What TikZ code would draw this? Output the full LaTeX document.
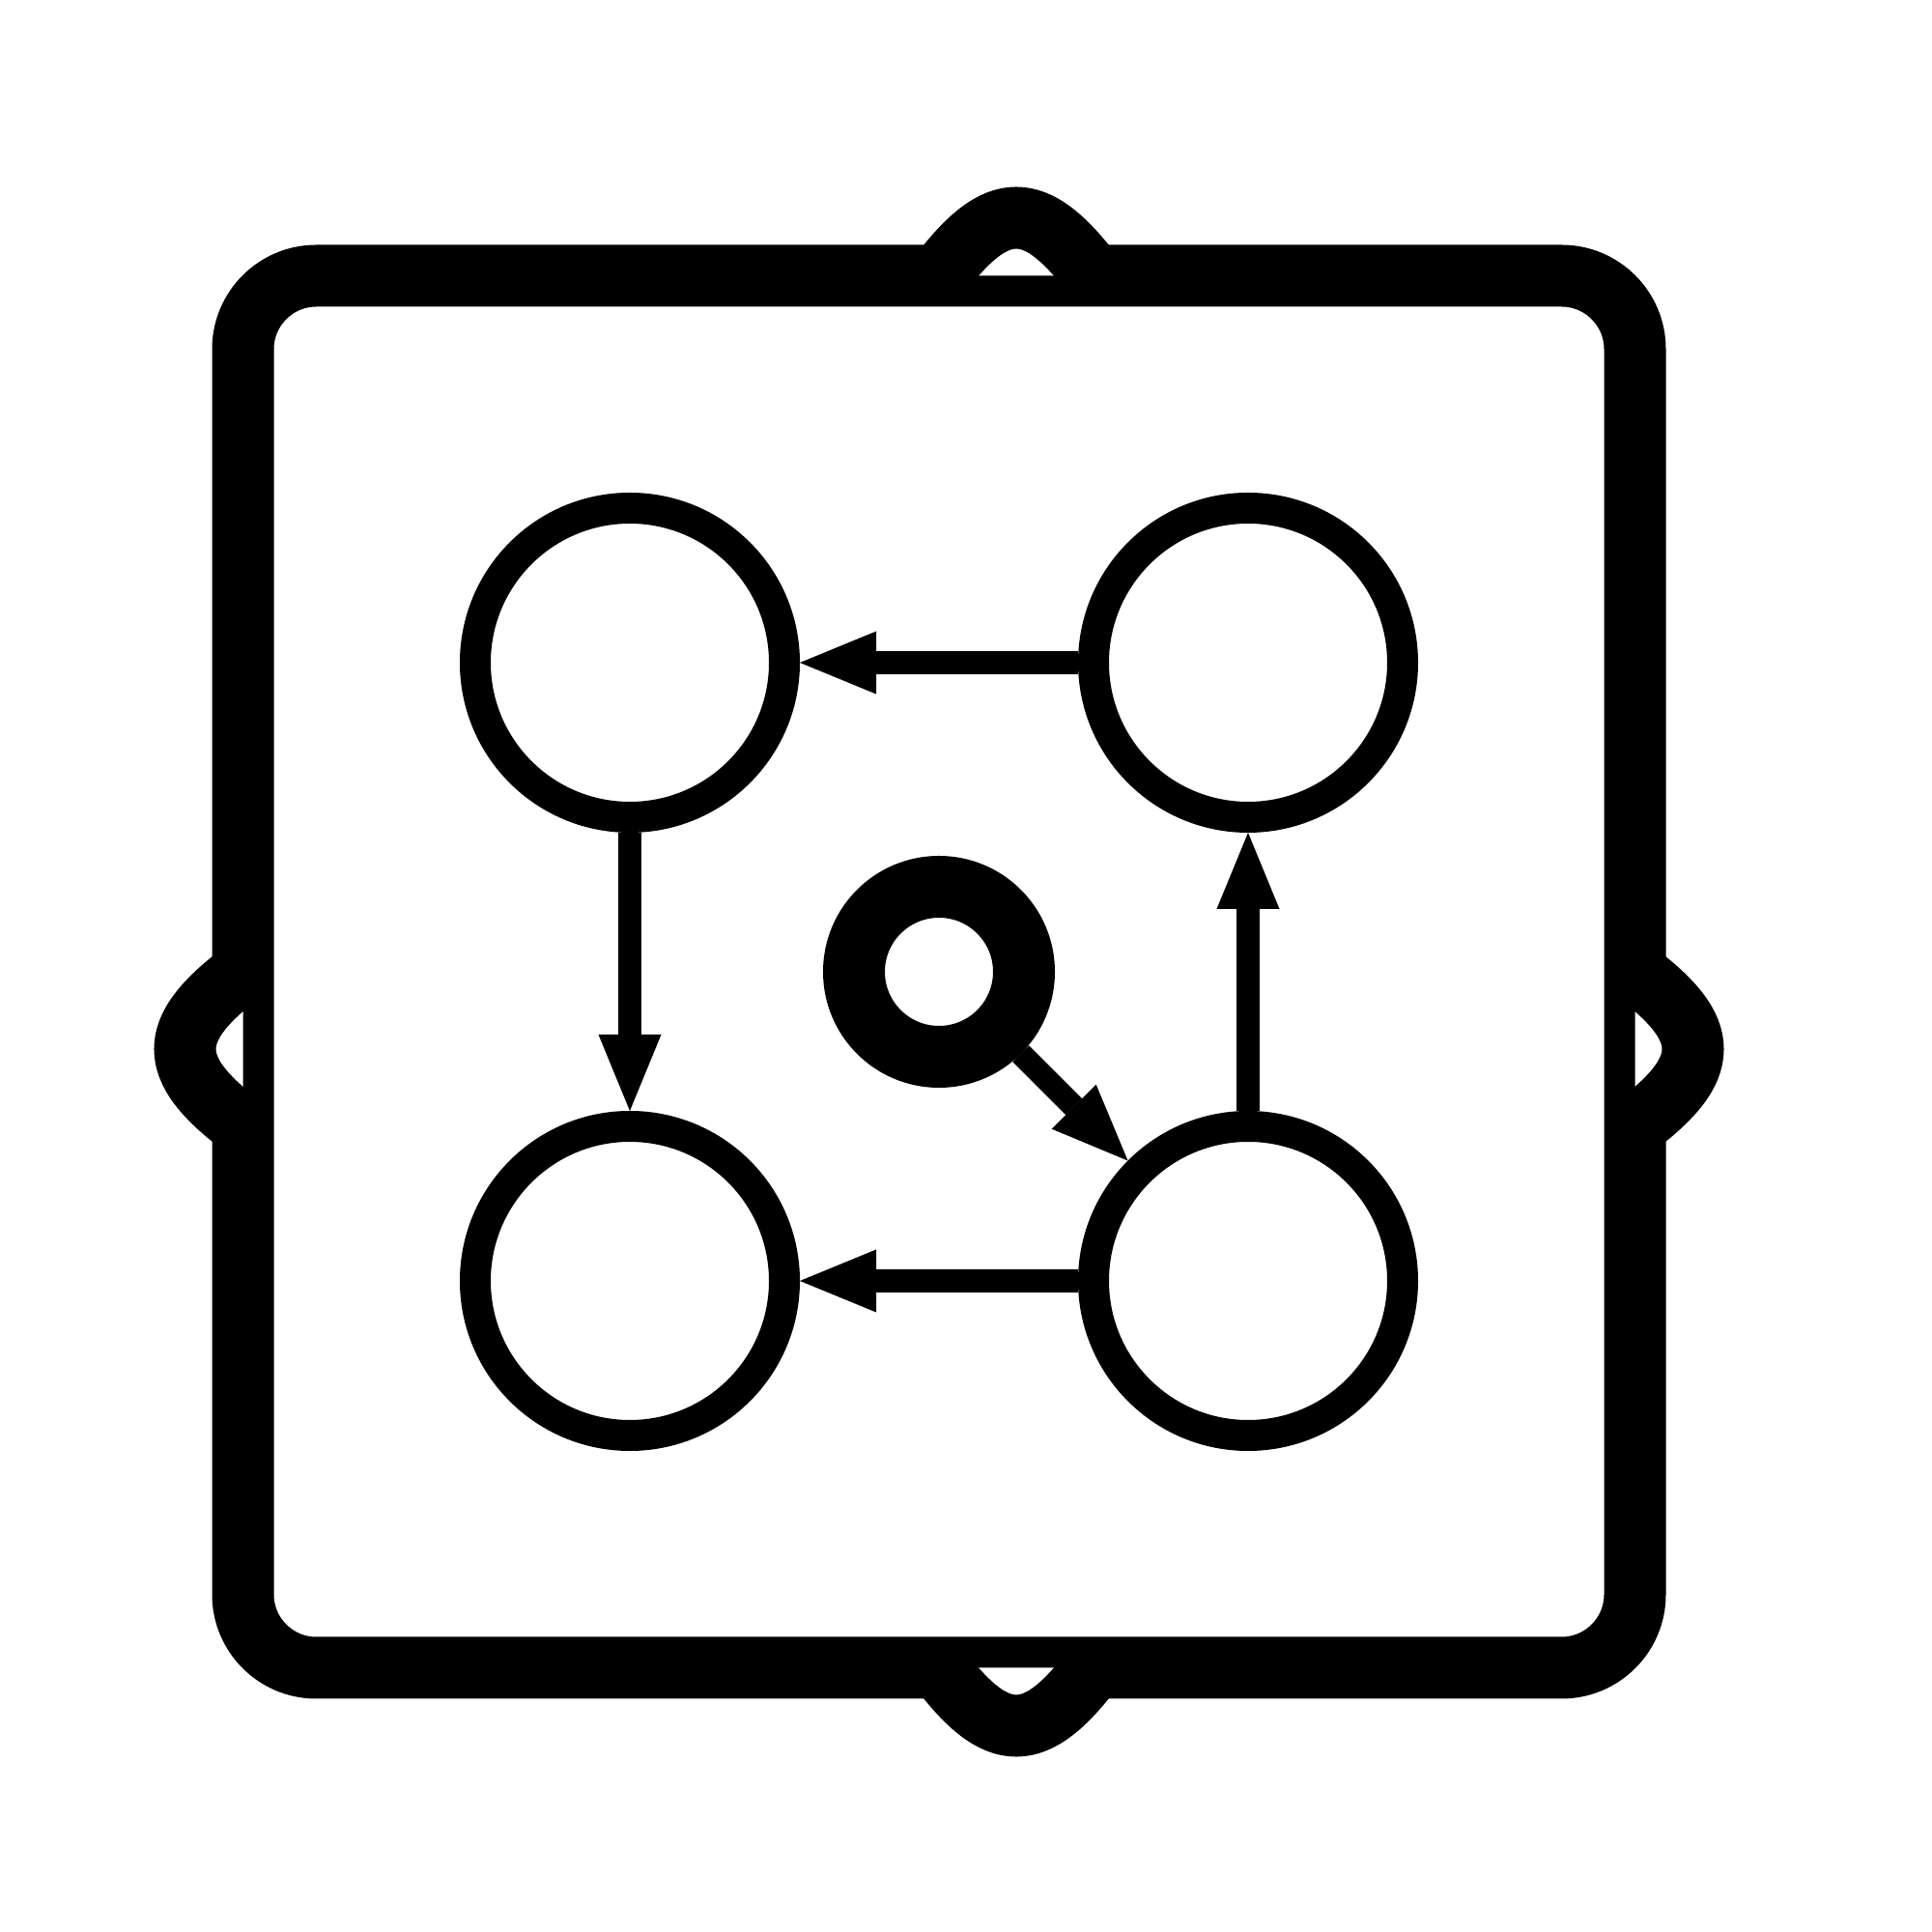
\documentclass[tikz,border=0pt]{standalone}
\usepackage{tikz}
\usetikzlibrary{arrows.meta,positioning,calc}

\tikzset{
  frame/.style={rectangle, minimum width=14.41cm, minimum height=14.41cm,
    inner sep=0pt, outer sep=0pt},
  frameline/.style={draw=black, line width=6.4mm, line join=round},
  state/.style={circle, draw=black, line width=3.2mm, minimum size=32mm, inner sep=0pt},
  hub/.style={circle, draw=black, line width=6.4mm, minimum size=17.6mm, inner sep=0pt},
  loopline/.style={draw=black, line width=6.4mm, fill=white},
  arr/.style={-{Triangle[length=7.9mm, width=6.5mm, line width=0pt]}, line width=2.4mm}
}

\begin{document}
\begin{tikzpicture}
  \useasboundingbox (0,0) rectangle (20,20);

  \node (R) [frame] at (9.72,9.94) {};
  \draw [frameline] ($(R.north west)+(0.76,0)$) -- ($(R.north east)+(-0.76,0)$)
    arc[start angle=90, end angle=0, radius=0.76] -- ($(R.south east)+(0,0.76)$)
    arc[start angle=0, end angle=-90, radius=0.76] -- ($(R.south west)+(0.76,0)$)
    arc[start angle=-90, end angle=-180, radius=0.76] -- ($(R.north west)+(0,-0.76)$)
    arc[start angle=180, end angle=90, radius=0.76] -- cycle;

  % self loops on the frame
  \coordinate (Rn) at ($(R.north)+(1.6,0)$);
  \coordinate (Rs) at ($(R.south)+(1.6,0)$);
  \coordinate (Rw) at ($(R.west)+(0,-1.6)$);
  \coordinate (Re) at ($(R.east)+(0,-1.6)$);
  \draw [loopline] (R.north) .. controls ($(R.north)+(0.6,0.8)$) and ($(Rn)+(-0.6,0.8)$) .. (Rn);
  \draw [loopline] (R.south) .. controls ($(R.south)+(0.6,-0.8)$) and ($(Rs)+(-0.6,-0.8)$) .. (Rs);
  \draw [loopline] (R.west) .. controls ($(R.west)+(-0.8,-0.6)$) and ($(Rw)+(-0.8,0.6)$) .. (Rw);
  \draw [loopline] (R.east) .. controls ($(R.east)+(0.8,-0.6)$) and ($(Re)+(0.8,0.6)$) .. (Re);

  \node (A) [state] at (6.52,13.14) {};
  \node (B) [state] at (12.92,13.14) {};
  \node (C) [state] at (6.52,6.74) {};
  \node (D) [state] at (12.92,6.74) {};
  \node (E) [hub] at (9.72,9.94) {};

  \path [arr]
  (B) edge (A)
  (A) edge (C)
  (D) edge (C)
  (D) edge (B)
  (E) edge (D);
\end{tikzpicture}
\end{document}
